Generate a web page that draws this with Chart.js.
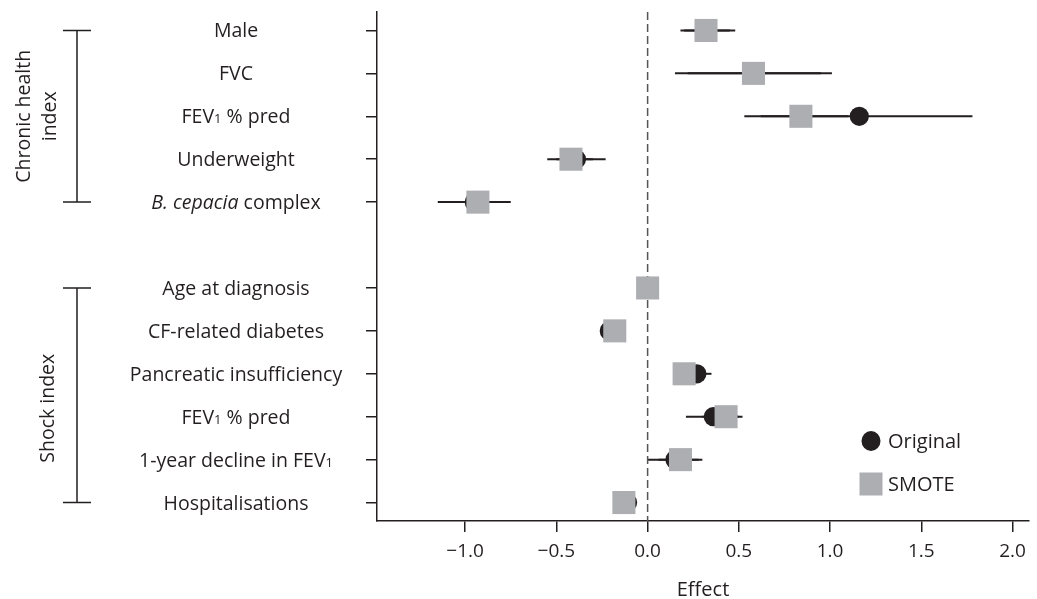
<!DOCTYPE html>
<html>
<head>
<meta charset="utf-8">
<script src="https://cdn.jsdelivr.net/npm/chart.js@4.4.1/dist/chart.umd.min.js"></script>
<style>
  html, body { margin: 0; padding: 0; background: #fff; }
  #wrap { width: 1037px; height: 599px; position: relative; }
</style>
</head>
<body>
<div id="wrap"><canvas id="forest"></canvas></div>
<script>
// rows top to bottom; '' is the gap between the two groups
// _1 = small "1", *...* = italic
const categories = [
  'Male', 'FVC', 'FEV_1 % pred', 'Underweight', '*B. cepacia* complex', '',
  'Age at diagnosis', 'CF-related diabetes', 'Pancreatic insufficiency',
  'FEV_1 % pred', '1-year decline in FEV_1', 'Hospitalisations'
];

const originalEffect = [0.32, 0.58, 1.16, -0.39, -0.95, null, 0.0, -0.21, 0.27, 0.36, 0.15, -0.11];
const originalLow    = [0.18, 0.15, 0.53, -0.55, -1.15, null, -0.03, -0.26, 0.21, 0.21, 0.0, -0.14];
const originalHigh   = [0.48, 1.01, 1.78, -0.23, -0.75, null, 0.03, -0.16, 0.35, 0.52, 0.30, -0.08];

const smoteEffect = [0.32, 0.58, 0.84, -0.42, -0.93, null, 0.0, -0.18, 0.20, 0.43, 0.18, -0.13];
const smoteLow    = [0.20, 0.22, 0.62, -0.50, -1.08, null, -0.03, -0.22, 0.15, 0.30, 0.06, -0.17];
const smoteHigh   = [0.45, 0.95, 1.10, -0.30, -0.80, null, 0.03, -0.14, 0.25, 0.50, 0.28, -0.09];

const xTicks = [-1.0, -0.5, 0.0, 0.5, 1.0, 1.5, 2.0];

const groups = [
  { label: ['Chronic health', 'index'], from: 0, to: 4 },
  { label: ['Shock index'], from: 6, to: 11 }
];

const ink = '#231f20';
const grey = '#adaeb1';
const fontFamily = '"Open Sans", Roboto, sans-serif';

const X_MIN = -1.483;
const X_MAX = 2.09;
const Y_MIN = -0.43;
const Y_MAX = 11.43;

function points(values) {
  return values.map((v, i) => (v === null ? null : { x: v, y: i })).filter(Boolean);
}

function drawRichLabel(ctx, text, cx, cy, size) {
  // split into segments: normal, italic, small digit
  const segs = [];
  const re = /(\*[^*]+\*|_\d)/g;
  let last = 0, m;
  while ((m = re.exec(text)) !== null) {
    if (m.index > last) segs.push({ t: text.slice(last, m.index), style: 'normal' });
    if (m[0][0] === '*') segs.push({ t: m[0].slice(1, -1), style: 'italic' });
    else segs.push({ t: m[0].slice(1), style: 'small' });
    last = m.index + m[0].length;
  }
  if (last < text.length) segs.push({ t: text.slice(last), style: 'normal' });

  const fontFor = (s) => s === 'italic' ? `italic ${size}px ${fontFamily}`
    : s === 'small' ? `${Math.round(size * 0.66)}px ${fontFamily}`
    : `${size}px ${fontFamily}`;

  let total = 0;
  segs.forEach((s) => { ctx.font = fontFor(s.style); s.w = ctx.measureText(s.t).width; total += s.w; });

  let x = cx - total / 2;
  ctx.textAlign = 'left';
  ctx.textBaseline = 'alphabetic';
  const base = cy + size * 0.36;
  segs.forEach((s) => {
    ctx.font = fontFor(s.style);
    ctx.fillText(s.t, x, base);
    x += s.w;
  });
}

const forestDecor = {
  id: 'forestDecor',
  beforeDatasetsDraw(chart) {
    const { ctx, scales: { x, y } } = chart;
    ctx.save();
    ctx.strokeStyle = ink;
    ctx.lineWidth = 2;
    const bars = [[originalLow, originalHigh], [smoteLow, smoteHigh]];
    bars.forEach(([lo, hi]) => {
      lo.forEach((v, i) => {
        if (v === null) return;
        const py = y.getPixelForValue(i);
        ctx.beginPath();
        ctx.moveTo(x.getPixelForValue(v), py);
        ctx.lineTo(x.getPixelForValue(hi[i]), py);
        ctx.stroke();
      });
    });
    ctx.restore();
  },
  afterDraw(chart) {
    const { ctx, scales: { y }, chartArea } = chart;
    ctx.save();
    ctx.fillStyle = ink;

    // category labels, centred in the left column
    const labelCx = chartArea.left - 141;
    categories.forEach((c, i) => {
      if (!c) return;
      drawRichLabel(ctx, c, labelCx, y.getPixelForValue(i), 19.5);
    });

    // group brackets
    ctx.strokeStyle = ink;
    ctx.lineWidth = 1.5;
    groups.forEach((g, gi) => {
      const y0 = y.getPixelForValue(g.from);
      const y1 = y.getPixelForValue(g.to);
      const bx = chartArea.left - 300;
      ctx.beginPath();
      ctx.moveTo(bx - 14, y0); ctx.lineTo(bx + 14, y0);
      ctx.moveTo(bx, y0); ctx.lineTo(bx, y1);
      ctx.moveTo(bx - 14, y1); ctx.lineTo(bx + 14, y1);
      ctx.stroke();

      const midY = (y0 + y1) / 2 + (gi === 1 ? 13 : 0);
      ctx.save();
      ctx.font = `19.5px ${fontFamily}`;
      ctx.textAlign = 'center';
      ctx.textBaseline = 'middle';
      const lineX = g.label.length === 2 ? [chartArea.left - 353, chartArea.left - 327] : [chartArea.left - 329];
      g.label.forEach((line, li) => {
        ctx.save();
        ctx.translate(lineX[li], midY);
        ctx.rotate(-Math.PI / 2);
        ctx.fillText(line, 0, 0);
        ctx.restore();
      });
      ctx.restore();
    });

    // legend
    const lx = chartArea.left + 494;
    ctx.fillStyle = ink;
    ctx.beginPath();
    ctx.ellipse(lx, 441, 9.5, 10, 0, 0, Math.PI * 2);
    ctx.fill();
    ctx.fillStyle = grey;
    ctx.fillRect(lx - 11.5, 484 - 11.5, 23, 23);
    ctx.fillStyle = ink;
    ctx.font = `20px ${fontFamily}`;
    ctx.textAlign = 'left';
    ctx.textBaseline = 'middle';
    ctx.fillText('Original', lx + 17, 442);
    ctx.fillText('SMOTE', lx + 17, 485);
    ctx.restore();
  }
};

new Chart(document.getElementById('forest'), {
  type: 'scatter',
  data: {
    datasets: [
      {
        label: 'SMOTE',
        data: points(smoteEffect),
        pointStyle: 'rect',
        pointRadius: 16.3,
        pointHoverRadius: 16.3,
        backgroundColor: grey,
        borderWidth: 0,
        order: 0
      },
      {
        label: 'Original',
        data: points(originalEffect),
        pointStyle: 'circle',
        pointRadius: 9.6,
        pointHoverRadius: 9.6,
        backgroundColor: ink,
        borderWidth: 0,
        order: 1
      },
      {
        label: 'zero',
        data: [{ x: 0, y: Y_MIN }, { x: 0, y: Y_MAX }],
        showLine: true,
        pointRadius: 0,
        borderColor: '#555',
        borderWidth: 1.5,
        borderDash: [8, 4],
        order: 2
      }
    ]
  },
  options: {
    responsive: true,
    maintainAspectRatio: false,
    animation: false,
    layout: { autoPadding: false, padding: { top: 12, right: 8, left: 0, bottom: 0 } },
    plugins: {
      legend: { display: false },
      tooltip: { enabled: false }
    },
    scales: {
      x: {
        type: 'linear',
        min: X_MIN,
        max: X_MAX,
        afterBuildTicks: (scale) => { scale.ticks = xTicks.map((v) => ({ value: v })); },
        afterFit: (scale) => {
          scale.height = 78;
          scale.paddingLeft = 0;
          scale.paddingRight = 0;
        },
        border: { color: ink, width: 1.5 },
        grid: { drawOnChartArea: false, drawTicks: true, tickLength: 11, color: ink, lineWidth: 1.5 },
        ticks: {
          color: ink,
          padding: 8,
          font: { family: fontFamily, size: 19 },
          callback: (v) => v.toFixed(1).replace('-', '\u2212')
        },
        title: {
          display: true,
          text: 'Effect',
          color: ink,
          font: { family: fontFamily, size: 20 },
          padding: { top: 8, bottom: -3 }
        }
      },
      y: {
        type: 'linear',
        reverse: true,
        min: Y_MIN,
        max: Y_MAX,
        afterBuildTicks: (scale) => {
          scale.ticks = categories.map((c, i) => (c ? { value: i } : null)).filter(Boolean);
        },
        afterFit: (scale) => {
          scale.width = 377;
          scale.paddingTop = 0;
          scale.paddingBottom = 0;
        },
        border: { color: ink, width: 1.5 },
        grid: { drawOnChartArea: false, drawTicks: true, tickLength: 11, color: ink, lineWidth: 1.5 },
        ticks: { display: false }
      }
    }
  },
  plugins: [forestDecor]
});
</script>
</body>
</html>
